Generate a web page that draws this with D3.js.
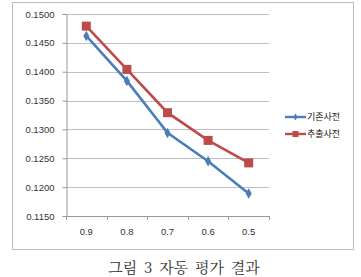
<!DOCTYPE html>
<html><head><meta charset="utf-8">
<script src="https://cdn.jsdelivr.net/npm/d3@7"></script>
<style>body{margin:0;background:#fff}svg{display:block}</style>
</head><body>
<svg id="c" width="361" height="277"></svg>
<script>
const categories = ["0.9","0.8","0.7","0.6","0.5"];
const seriesNames = ["기존사전","추출사전"];
const baseValues = [0.1462,0.1384,0.1294,0.1245,0.1189];
const extractValues = [0.1479,0.1404,0.1329,0.1281,0.1242];
const yTicks = [0.1150,0.1200,0.1250,0.1300,0.1350,0.1400,0.1450,0.1500];
const caption = "그림 3 자동 평가 결과";

const svg = d3.select("#c");
const font = "'Liberation Sans', Arial, sans-serif";
svg.append("rect").attr("x",12.5).attr("y",2.5).attr("width",341).attr("height",247)
  .attr("fill","#fff").attr("stroke","#bdbdbd").attr("stroke-width",1);

const L=66, R=269, T=14, B=216;
const x = d3.scaleBand().domain(categories).range([L,R]);
const y = d3.scaleLinear().domain([0.115,0.15]).range([B,T]);

// gridlines
svg.append("g").selectAll("line").data(yTicks.slice(1)).join("line")
  .attr("x1",L).attr("x2",R).attr("y1",d=>Math.round(y(d))+0.5).attr("y2",d=>Math.round(y(d))+0.5)
  .attr("stroke","#bfbfbf").attr("stroke-width",1);

const yAxis = svg.append("g").attr("transform",`translate(${L+0.5},0)`)
  .call(d3.axisLeft(y).tickValues(yTicks).tickFormat(d3.format(".4f")).tickSize(4).tickPadding(8));
const xAxis = svg.append("g").attr("transform",`translate(0,${B+0.5})`)
  .call(d3.axisBottom(x).tickSize(0).tickPadding(12));
// category boundary ticks
const bounds = categories.map(c=>x(c)).concat([R]);
svg.append("g").selectAll("line").data(bounds).join("line")
  .attr("x1",d=>Math.round(d)+0.5).attr("x2",d=>Math.round(d)+0.5).attr("y1",B).attr("y2",B+4)
  .attr("stroke","#999");
[yAxis,xAxis].forEach(a=>{
  a.select(".domain").attr("stroke","#999");
  a.selectAll(".tick line").attr("stroke","#999");
  a.selectAll("text").attr("font-family",font).attr("font-size",9.5).attr("fill","#333");
});
xAxis.select(".domain").attr("d",`M${L},0H${R}`);

const cx = d=>x(d)+x.bandwidth()/2;
const line = d3.line().x((d,i)=>cx(categories[i])).y(d=>y(d));
const blue="#4a7ebb", red="#be4b48";

svg.append("path").datum(extractValues).attr("d",line).attr("fill","none").attr("stroke",red).attr("stroke-width",2.6);
svg.append("path").datum(baseValues).attr("d",line).attr("fill","none").attr("stroke",blue).attr("stroke-width",2.6);

svg.append("g").selectAll("rect").data(extractValues).join("rect")
  .attr("x",(d,i)=>cx(categories[i])-4.5).attr("y",d=>y(d)-4.5).attr("width",9).attr("height",9).attr("fill",red);
svg.append("g").selectAll("path").data(baseValues).join("path")
  .attr("transform",(d,i)=>`translate(${cx(categories[i])},${y(d)})`)
  .attr("d",d3.symbol(d3.symbolDiamond,32)).attr("fill",blue);

// legend
const lg = svg.append("g");
[[blue,seriesNames[0],117],[red,seriesNames[1],134]].forEach(([c,t,yy],i)=>{
  lg.append("line").attr("x1",285).attr("x2",306).attr("y1",yy).attr("y2",yy).attr("stroke",c).attr("stroke-width",2.4);
  if(i==0) lg.append("path").attr("transform",`translate(295.5,${yy})`).attr("d",d3.symbol(d3.symbolDiamond,14)).attr("fill",c);
  else lg.append("rect").attr("x",292.5).attr("y",yy-3).attr("width",6).attr("height",6).attr("fill",c);
  lg.append("text").attr("x",307).attr("y",yy).attr("dy","0.35em").attr("font-family","'Noto Sans CJK KR', sans-serif")
    .attr("font-size",9).attr("fill","#222").text(t);
});

svg.append("text").attr("x",184).attr("y",268).attr("dy","0.35em").attr("text-anchor","middle")
  .attr("font-family","'Noto Serif CJK KR','Noto Sans CJK KR', serif").attr("font-size",15).attr("fill","#333")
  .attr("word-spacing","3px").text(caption);
</script>
</body></html>
